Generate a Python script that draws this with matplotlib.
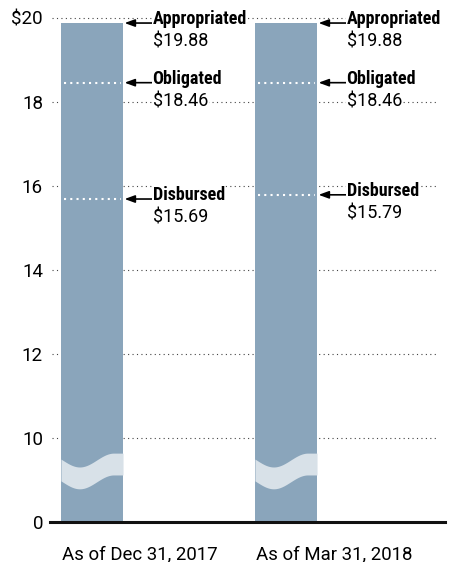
import numpy as np
import matplotlib
matplotlib.use("Agg")
import matplotlib.pyplot as plt

REG = ['Roboto', 'DejaVu Sans']
BOLD = ['Roboto Condensed', 'DejaVu Sans']
plt.rcParams['font.family'] = REG

categories = ["As of Dec 31, 2017", "As of Mar 31, 2018"]
appropriated = [19.88, 19.88]
obligated = [18.46, 18.46]
disbursed = [15.69, 15.79]
ticks = [0, 10, 12, 14, 16, 18, 20]
tick_labels = ["0", "10", "12", "14", "16", "18", "$20"]

BAR = "#8aa5bb"
BREAK = "#d8e1e8"

def fwd(v):
    v = np.asarray(v, dtype=float)
    return np.where(v >= 10, v, 8 + 0.2 * v)

def inv(p):
    p = np.asarray(p, dtype=float)
    return np.where(p >= 10, p, (p - 8) / 0.2)

fig = plt.figure(figsize=(4.52, 5.62), dpi=100)
ax = fig.add_axes([50/452, 40/562, 395/452, 512.4/562])
ax.set_yscale('function', functions=(fwd, inv))
ax.set_ylim(0, 20.2)
ax.set_xlim(-42/194, 353/194)

x = np.arange(len(categories))
w = 0.32
ax.bar(x, appropriated, width=w, color=BAR, zorder=2)

ax.hlines(ticks[1:], -40/194, 346/194, colors="#444444", linewidth=0.8,
          linestyles=(0, (1, 3)), zorder=1)

for xi, o, d in zip(x, obligated, disbursed):
    for v in (o, d):
        ax.hlines(v, xi - w/2 + 0.015, xi + w/2 - 0.01, colors="white",
                  linewidth=1.5, linestyles=(0, (1, 2)), zorder=3)

f = np.linspace(0, 1, 100)
t = np.clip((f - 0.3) / 0.55, -1, 1)
top = 7.375 - 0.825 * np.cos(np.pi * t)
bot = top - 2.6
for xi in x:
    xs = xi - w/2 + f * w
    ax.fill_between(xs, bot, top, color=BREAK, linewidth=0, zorder=3)

for xi, a, o, d in zip(x, appropriated, obligated, disbursed):
    right = xi + w/2
    for lab, v in (("Appropriated", a), ("Obligated", o), ("Disbursed", d)):
        ax.annotate('', xy=(right + 0.008, v), xytext=(right + 0.15, v),
                    arrowprops=dict(arrowstyle='-|>,head_length=0.6,head_width=0.22',
                                    color='black', lw=1.2, shrinkA=0, shrinkB=0),
                    zorder=5)
        ax.annotate(lab, xy=(right + 0.152, v), xytext=(0, 3), textcoords='offset points',
                    ha='left', va='center', fontsize=13, fontweight='bold', family=BOLD,
                    bbox=dict(facecolor='white', edgecolor='none', pad=0.5), zorder=6)
        ax.annotate(f"${v:.2f}", xy=(right + 0.152, v), xytext=(0, -13.5),
                    textcoords='offset points', ha='left', va='center', fontsize=13,
                    bbox=dict(facecolor='white', edgecolor='none', pad=0.5), zorder=6)

ax.set_yticks(ticks)
ax.set_yticklabels(tick_labels, fontsize=13.5)
ax.tick_params(axis='y', length=0, pad=5)
ax.set_xticks([])
for xi, c in zip(x, categories):
    ax.text(xi - w/2 + 0.005, -0.045, c, transform=ax.get_xaxis_transform(),
            ha='left', va='top', fontsize=13.4)

for s in ('top', 'right', 'left'):
    ax.spines[s].set_visible(False)
ax.spines['bottom'].set_linewidth(2.2)
ax.spines['bottom'].set_color('#111111')

fig.savefig("out.png", dpi=100)
